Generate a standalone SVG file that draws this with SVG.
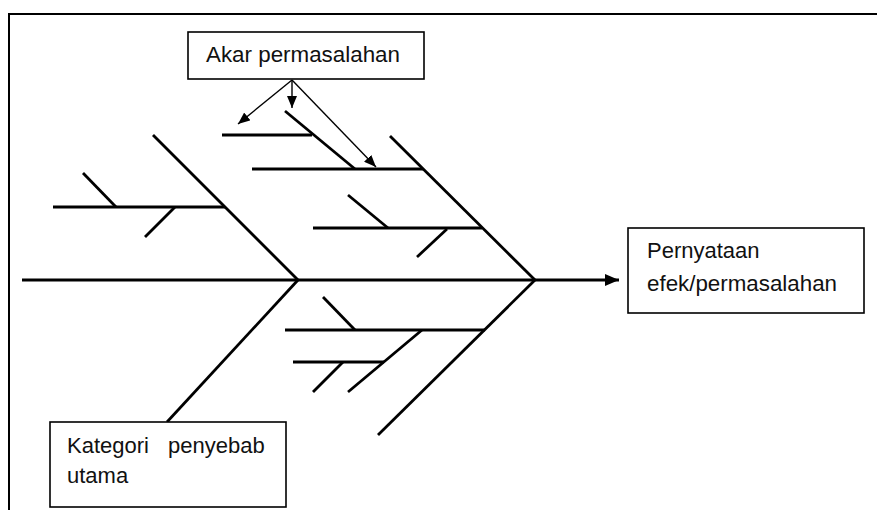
<svg xmlns="http://www.w3.org/2000/svg" width="877" height="510" viewBox="0 0 877 510">
<style>
.bone{stroke:#000;stroke-width:2.8;fill:none;stroke-linecap:butt}
.ptr{stroke:#000;stroke-width:1.4;fill:none}
.box{fill:#fff;stroke:#000;stroke-width:1.6}
.frame{stroke:#000;stroke-width:2;fill:none}
.lbl{font-family:"Liberation Sans",Arial,sans-serif;font-size:22px;fill:#111}
</style>
<defs>
<marker id="ah" viewBox="0 0 12 10" refX="12" refY="5" markerWidth="12" markerHeight="10" markerUnits="userSpaceOnUse" orient="auto"><path d="M0,0 L12,5 L0,10 Z" fill="#000"/></marker>
<marker id="ahBig" viewBox="0 0 14 12" refX="14" refY="6" markerWidth="14" markerHeight="12" markerUnits="userSpaceOnUse" orient="auto"><path d="M0,0 L14,6 L0,12 Z" fill="#000"/></marker>
</defs>
<rect width="877" height="510" fill="#fff"/>
<path class="frame" d="M9,510 V14 H877"/>
<g id="connectors">
<line class="bone" x1="22" y1="280" x2="619" y2="280" marker-end="url(#ahBig)"/>
<line class="bone" x1="153" y1="135" x2="298" y2="280"/>
<line class="bone" x1="390" y1="136" x2="535" y2="280"/>
<line class="bone" x1="298" y1="280" x2="167" y2="422"/>
<line class="bone" x1="535" y1="280" x2="378" y2="435"/>
<line class="bone" x1="53" y1="207" x2="225" y2="207"/>
<line class="bone" x1="83" y1="173" x2="116" y2="207"/>
<line class="bone" x1="175" y1="207" x2="145" y2="237"/>
<line class="bone" x1="222" y1="135" x2="312" y2="135"/>
<line class="bone" x1="285" y1="111" x2="355" y2="169"/>
<line class="bone" x1="252" y1="169" x2="423" y2="169"/>
<line class="bone" x1="313" y1="228" x2="482" y2="228"/>
<line class="bone" x1="348" y1="195" x2="388" y2="228"/>
<line class="bone" x1="447" y1="229" x2="417" y2="257"/>
<line class="bone" x1="285" y1="330" x2="485" y2="330"/>
<line class="bone" x1="323" y1="297" x2="355" y2="330"/>
<line class="bone" x1="422" y1="330" x2="348" y2="392"/>
<line class="bone" x1="293" y1="362" x2="384" y2="362"/>
<line class="bone" x1="343" y1="362" x2="313" y2="392"/>
<line class="ptr" x1="292" y1="80" x2="238" y2="124" marker-end="url(#ah)"/>
<line class="ptr" x1="292" y1="80" x2="292" y2="108" marker-end="url(#ah)"/>
<line class="ptr" x1="292" y1="80" x2="376" y2="167" marker-end="url(#ah)"/>
</g>
<g id="akar">
<rect class="box" x="188" y="32" width="236" height="47"/>
<text class="lbl" x="206" y="62" textLength="194" lengthAdjust="spacingAndGlyphs">Akar permasalahan</text>
</g>
<g id="efek">
<rect class="box" x="628" y="228" width="236" height="85"/>
<text class="lbl" x="647" y="258">Pernyataan</text>
<text class="lbl" x="647" y="291" textLength="190" lengthAdjust="spacingAndGlyphs">efek/permasalahan</text>
</g>
<g id="kategori">
<rect class="box" x="50" y="422" width="236" height="85"/>
<text class="lbl" x="67" y="453"><tspan x="67">Kategori</tspan><tspan x="168">penyebab</tspan></text>
<text class="lbl" x="67" y="483">utama</text>
</g>
</svg>
